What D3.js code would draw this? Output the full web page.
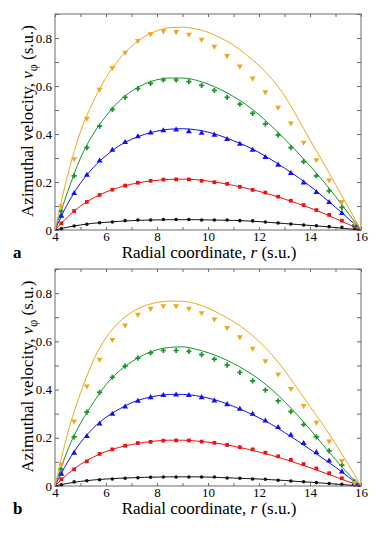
<!DOCTYPE html>
<html>
<head>
<meta charset="utf-8">
<script src="https://cdn.jsdelivr.net/npm/d3@7"></script>
<style>
    html, body { margin: 0; padding: 0; background: #fff; }
    svg { display: block; }
</style>
</head>
<body>
<div id="chart"></div>
<script>
// =========================
// DATA
// =========================
const POINT_R = [4.25, 4.75, 5.25, 5.75, 6.25, 6.75, 7.25, 7.75, 8.25, 8.75, 9.25, 9.75,
    10.25, 10.75, 11.25, 11.75, 12.25, 12.75, 13.25, 13.75, 14.25, 14.75, 15.25, 15.75];
const LINE_R = [4, 4.5, 5, 5.5, 6, 6.5, 7, 7.5, 8, 8.5, 9, 9.5, 10,
    10.5, 11, 11.5, 12, 12.5, 13, 13.5, 14, 14.5, 15, 15.5, 16];

const X_TICKS = [4, 6, 8, 10, 12, 14, 16];
const Y_TICKS = [0, 0.2, 0.4, 0.6, 0.8];
const Y_TICK_LABELS = ["0", "0.2", "0.4", "0.6", "0.8"];

// panel a - simulation points
const A_ORANGE_PTS = [0.10, 0.296, 0.465, 0.586, 0.676, 0.740, 0.789, 0.817, 0.829, 0.826, 0.815, 0.794,
    0.765, 0.726, 0.682, 0.632, 0.575, 0.511, 0.445, 0.365, 0.292, 0.208, 0.118, 0.03];
const A_GREEN_PTS = [0.079, 0.226, 0.343, 0.433, 0.503, 0.553, 0.589, 0.611, 0.625, 0.625, 0.618, 0.603,
    0.582, 0.553, 0.524, 0.486, 0.442, 0.396, 0.343, 0.285, 0.226, 0.163, 0.094, 0.02];
const A_BLUE_PTS = [0.058, 0.153, 0.229, 0.288, 0.333, 0.365, 0.389, 0.405, 0.414, 0.417, 0.41, 0.404,
    0.396, 0.378, 0.358, 0.333, 0.303, 0.271, 0.236, 0.197, 0.157, 0.115, 0.07, 0.021];
const A_RED_PTS = [0.028, 0.079, 0.117, 0.146, 0.168, 0.185, 0.197, 0.205, 0.21, 0.211, 0.211, 0.205,
    0.199, 0.192, 0.18, 0.167, 0.156, 0.139, 0.122, 0.104, 0.083, 0.063, 0.039, 0.014];
const A_BLACK_PTS = [0.005, 0.017, 0.024, 0.03, 0.033, 0.039, 0.042, 0.042, 0.044, 0.044, 0.044, 0.042,
    0.042, 0.042, 0.039, 0.038, 0.033, 0.029, 0.025, 0.021, 0.018, 0.014, 0.011, 0.006];

// panel a - theory curves
const A_ORANGE_LINE = [0, 0.23, 0.41, 0.535, 0.635, 0.71, 0.765, 0.805, 0.83, 0.843, 0.845, 0.838, 0.824,
    0.80, 0.77, 0.73, 0.685, 0.63, 0.56, 0.47, 0.375, 0.285, 0.19, 0.095, 0];
const A_GREEN_LINE = [0, 0.16, 0.30, 0.40, 0.475, 0.535, 0.578, 0.608, 0.626, 0.633, 0.633, 0.625, 0.608,
    0.585, 0.556, 0.522, 0.48, 0.432, 0.38, 0.325, 0.267, 0.206, 0.14, 0.07, 0];
const A_BLUE_LINE = [0, 0.11, 0.195, 0.26, 0.31, 0.35, 0.378, 0.398, 0.412, 0.42, 0.422, 0.418, 0.408,
    0.392, 0.372, 0.35, 0.323, 0.292, 0.258, 0.222, 0.183, 0.14, 0.095, 0.048, 0];
const A_RED_LINE = [0, 0.055, 0.10, 0.133, 0.158, 0.177, 0.191, 0.201, 0.207, 0.211, 0.212, 0.21, 0.204,
    0.196, 0.186, 0.174, 0.161, 0.146, 0.129, 0.111, 0.092, 0.071, 0.048, 0.024, 0];
const A_BLACK_LINE = [0, 0.012, 0.021, 0.028, 0.032, 0.036, 0.039, 0.041, 0.042, 0.043, 0.043, 0.043, 0.042,
    0.041, 0.04, 0.038, 0.035, 0.031, 0.027, 0.023, 0.019, 0.015, 0.01, 0.005, 0];

// panel b - simulation points
const B_ORANGE_PTS = [0.09, 0.269, 0.414, 0.525, 0.607, 0.667, 0.711, 0.736, 0.747, 0.747, 0.736, 0.718,
    0.692, 0.657, 0.618, 0.571, 0.519, 0.464, 0.404, 0.333, 0.264, 0.186, 0.105, 0.014];
const B_GREEN_PTS = [0.070, 0.204, 0.306, 0.388, 0.451, 0.497, 0.530, 0.552, 0.562, 0.562, 0.558, 0.545,
    0.526, 0.501, 0.471, 0.436, 0.398, 0.353, 0.308, 0.255, 0.204, 0.146, 0.087, 0.018];
const B_BLUE_PTS = [0.05, 0.137, 0.206, 0.258, 0.298, 0.328, 0.352, 0.367, 0.376, 0.378, 0.376, 0.367,
    0.353, 0.338, 0.319, 0.298, 0.27, 0.243, 0.211, 0.177, 0.139, 0.104, 0.059, 0.011];
const B_RED_PTS = [0.028, 0.069, 0.102, 0.133, 0.152, 0.167, 0.178, 0.183, 0.188, 0.189, 0.189, 0.184,
    0.179, 0.17, 0.161, 0.152, 0.138, 0.123, 0.109, 0.091, 0.073, 0.053, 0.032, 0.008];
const B_BLACK_PTS = [0.005, 0.017, 0.022, 0.026, 0.029, 0.032, 0.034, 0.036, 0.037, 0.037, 0.037, 0.037,
    0.037, 0.033, 0.032, 0.029, 0.028, 0.024, 0.021, 0.018, 0.014, 0.01, 0.007, 0.004];

// panel b - theory curves
const B_ORANGE_LINE = [0, 0.22, 0.385, 0.52, 0.615, 0.678, 0.72, 0.747, 0.761, 0.767, 0.766, 0.757, 0.738,
    0.712, 0.682, 0.645, 0.60, 0.545, 0.48, 0.405, 0.33, 0.255, 0.175, 0.09, 0];
const B_GREEN_LINE = [0, 0.15, 0.26, 0.345, 0.42, 0.475, 0.515, 0.545, 0.565, 0.575, 0.577, 0.568, 0.553,
    0.533, 0.508, 0.478, 0.443, 0.40, 0.35, 0.295, 0.235, 0.172, 0.11, 0.05, 0];
const B_BLUE_LINE = [0, 0.10, 0.18, 0.24, 0.285, 0.318, 0.345, 0.363, 0.374, 0.38, 0.38, 0.375, 0.365,
    0.35, 0.33, 0.308, 0.283, 0.255, 0.222, 0.188, 0.152, 0.115, 0.078, 0.038, 0];
const B_RED_LINE = [0, 0.05, 0.09, 0.12, 0.143, 0.16, 0.172, 0.181, 0.187, 0.19, 0.19, 0.187, 0.182,
    0.175, 0.165, 0.154, 0.141, 0.127, 0.111, 0.094, 0.076, 0.057, 0.038, 0.018, 0];
const B_BLACK_LINE = [0, 0.011, 0.019, 0.025, 0.029, 0.032, 0.034, 0.036, 0.037, 0.038, 0.038, 0.038, 0.037,
    0.035, 0.033, 0.031, 0.029, 0.026, 0.023, 0.019, 0.016, 0.012, 0.008, 0.004, 0];

const COLORS = { orange: "#f2a71b", green: "#17952a", blue: "#1010f5", red: "#f01010", black: "#111" };
const SHAPES = { orange: "tri-down", green: "cross", blue: "tri-up", red: "square", black: "circle" };

const PANELS = [
    {
        letter: "a", top: 14, bottom: 230,
        series: [
            { key: "black", pts: A_BLACK_PTS, line: A_BLACK_LINE },
            { key: "red", pts: A_RED_PTS, line: A_RED_LINE },
            { key: "blue", pts: A_BLUE_PTS, line: A_BLUE_LINE },
            { key: "green", pts: A_GREEN_PTS, line: A_GREEN_LINE },
            { key: "orange", pts: A_ORANGE_PTS, line: A_ORANGE_LINE }
        ]
    },
    {
        letter: "b", top: 269, bottom: 486,
        series: [
            { key: "black", pts: B_BLACK_PTS, line: B_BLACK_LINE },
            { key: "red", pts: B_RED_PTS, line: B_RED_LINE },
            { key: "blue", pts: B_BLUE_PTS, line: B_BLUE_LINE },
            { key: "green", pts: B_GREEN_PTS, line: B_GREEN_LINE },
            { key: "orange", pts: B_ORANGE_PTS, line: B_ORANGE_LINE }
        ]
    }
];

// =========================
// SVG
// =========================
const W = 381, H = 536;
const left = 55, right = 361;
const FONT = "\"Liberation Serif\", \"DejaVu Serif\", \"Times New Roman\", serif";
const FRAME = "#6a6a6a";

const svg = d3.select("#chart")
    .append("svg")
    .attr("width", W)
    .attr("height", H)
    .attr("font-family", FONT);

const x = d3.scaleLinear().domain([4, 16]).range([left, right]);

const symbolFor = {
    "circle": d3.symbol().type(d3.symbolCircle).size(10),
    "square": d3.symbol().type(d3.symbolSquare).size(14),
    "tri-up": d3.symbol().type(d3.symbolTriangle).size(15),
    "tri-down": d3.symbol().type(d3.symbolTriangle).size(15),
    "cross": d3.symbol().type(d3.symbolCross).size(15)
};

PANELS.forEach(panel => {
    const y = d3.scaleLinear().domain([0, 0.9]).range([panel.bottom, panel.top]);
    const g = svg.append("g");

    // ---- frame and inward ticks
    g.append("rect")
        .attr("x", left).attr("y", panel.top)
        .attr("width", right - left).attr("height", panel.bottom - panel.top)
        .attr("fill", "none").attr("stroke", FRAME).attr("stroke-width", 1);

    const xMinor = d3.range(4, 16.001, 1);
    const yMinor = d3.range(0, 0.9001, 0.1);

    g.append("g")
        .attr("transform", `translate(0,${panel.bottom})`)
        .call(d3.axisBottom(x).tickValues(xMinor).tickSize(-3).tickFormat(""))
        .call(a => a.select(".domain").remove());
    g.append("g")
        .attr("transform", `translate(0,${panel.top})`)
        .call(d3.axisTop(x).tickValues(xMinor).tickSize(-3).tickFormat(""))
        .call(a => a.select(".domain").remove());
    g.append("g")
        .attr("transform", `translate(${left},0)`)
        .call(d3.axisLeft(y).tickValues(yMinor).tickSize(-4).tickFormat(""))
        .call(a => a.select(".domain").remove());
    g.append("g")
        .attr("transform", `translate(${right},0)`)
        .call(d3.axisRight(y).tickValues(yMinor).tickSize(-4).tickFormat(""))
        .call(a => a.select(".domain").remove());
    g.selectAll(".tick line").attr("stroke", FRAME);

    // ---- tick labels
    g.append("g")
        .attr("transform", `translate(0,${panel.bottom})`)
        .call(d3.axisBottom(x).tickValues(X_TICKS).tickSize(0).tickPadding(2).tickFormat(d3.format("d")))
        .call(a => a.select(".domain").remove())
        .attr("font-family", FONT)
        .selectAll("text")
        .attr("font-size", 13).attr("fill", "#000");
    g.append("g")
        .attr("transform", `translate(${left},0)`)
        .call(d3.axisLeft(y).tickValues(Y_TICKS).tickSize(0).tickPadding(3)
            .tickFormat((d, i) => Y_TICK_LABELS[i]))
        .call(a => a.select(".domain").remove())
        .attr("font-family", FONT)
        .selectAll("text")
        .attr("font-size", 13).attr("fill", "#000");

    // ---- theory curves
    const line = d3.line()
        .x((d, i) => x(LINE_R[i]))
        .y(d => y(d))
        .curve(d3.curveMonotoneX);

    panel.series.forEach(s => {
        g.append("path")
            .datum(s.line)
            .attr("d", line)
            .attr("fill", "none")
            .attr("stroke", COLORS[s.key])
            .attr("stroke-width", 1);
    });

    // ---- simulation points
    panel.series.forEach(s => {
        g.append("g")
            .selectAll("path")
            .data(s.pts)
            .enter()
            .append("path")
            .attr("d", symbolFor[SHAPES[s.key]])
            .attr("transform", (d, i) => {
                const rot = SHAPES[s.key] === "tri-down" ? " rotate(180)" : "";
                return `translate(${x(POINT_R[i])},${y(d)})${rot}`;
            })
            .attr("fill", COLORS[s.key]);
    });

    // ---- axis titles
    const mid = (left + right) / 2;
    const xl = g.append("text")
        .attr("x", mid + 1)
        .attr("y", panel.bottom + 28)
        .attr("text-anchor", "middle")
        .attr("font-size", 17)
        .attr("fill", "#000");
    xl.append("tspan").text("Radial coordinate, ");
    xl.append("tspan").attr("font-style", "italic").text("r");
    xl.append("tspan").text(" (s.u.)");

    const yl = g.append("text")
        .attr("transform", `translate(33,${(panel.top + panel.bottom) / 2 - 1}) rotate(-90)`)
        .attr("text-anchor", "middle")
        .attr("font-size", 17)
        .attr("fill", "#000");
    yl.append("tspan").text("Azimuthal velocity, ");
    yl.append("tspan").attr("font-style", "italic").text("v");
    yl.append("tspan").attr("font-size", 12).attr("dy", 4).text("\u03c6");
    yl.append("tspan").attr("dy", -4).text(" (s.u.)");

    // ---- panel letter
    g.append("text")
        .attr("x", 13)
        .attr("y", panel.bottom + 28)
        .attr("font-size", 17)
        .attr("font-weight", "bold")
        .attr("fill", "#000")
        .text(panel.letter);
});
</script>
</body>
</html>
